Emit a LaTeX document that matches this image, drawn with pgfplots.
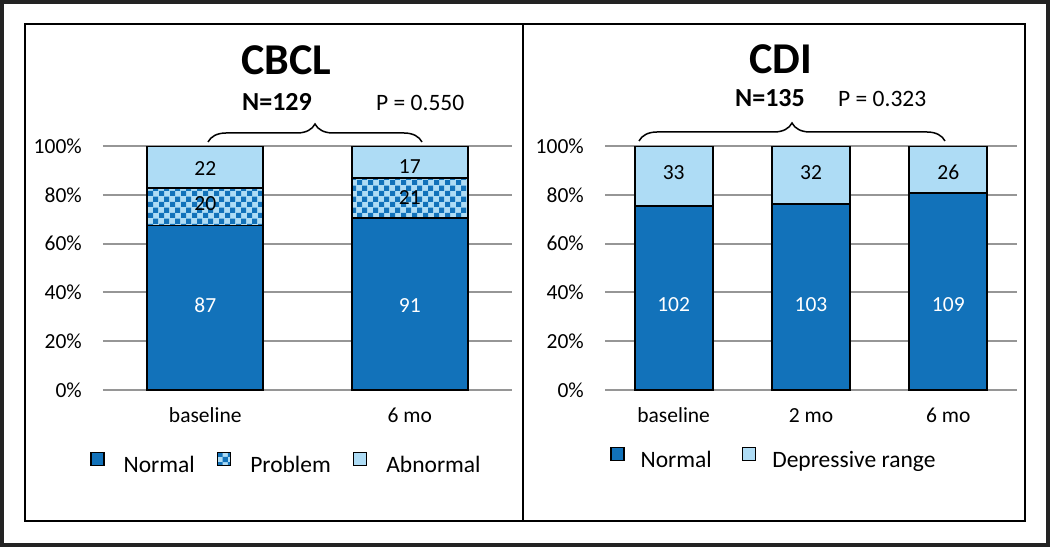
\documentclass[border=0pt]{standalone}
\usepackage{fontspec}
\setmainfont{Carlito}
\usepackage{pgfplots}
\pgfplotsset{compat=1.18}
\usetikzlibrary{patterns,decorations.pathreplacing}
\definecolor{dblue}{RGB}{18,114,186}
\definecolor{lblue}{RGB}{174,220,245}
\definecolor{gridgray}{RGB}{150,150,150}
\definecolor{frame}{RGB}{35,35,35}
\pgfdeclarepatternformonly{bigcheck}{\pgfpointorigin}{\pgfqpoint{10.6pt}{10.6pt}}{\pgfqpoint{10.6pt}{10.6pt}}{%
  \pgfpathrectangle{\pgfpointorigin}{\pgfqpoint{5.3pt}{5.3pt}}%
  \pgfpathrectangle{\pgfqpoint{5.3pt}{5.3pt}}{\pgfqpoint{5.3pt}{5.3pt}}%
  \pgfusepath{fill}}
\newcommand{\tf}{\fontsize{21.5}{25}\selectfont}
\newcommand{\lf}{\fontsize{23.5}{27}\selectfont}
\pgfplotsset{
  mybars/.style={
    ybar stacked, scale only axis, height=244pt, ymin=0, ymax=100,
    ytick={0,20,40,60,80,100},
    yticklabels={0\%,20\%,40\%,60\%,80\%,100\%},
    axis line style={draw=none},
    major tick length=0pt,
    ymajorgrids, grid style={gridgray, line width=2pt},
    tick label style={font=\tf, inner sep=0pt},
    yticklabel style={anchor=east, xshift=-21pt},
    xticklabel style={anchor=base, yshift=-32pt},
    xtick={0,1,2},
    legend cell align=left,
  },
  leg/.style={legend image code/.code={\draw[##1,draw=black,line width=1.5pt] (0pt,0pt) rectangle (13pt,13pt);}},
  normal/.style={fill=dblue, draw=black, line width=1.8pt, leg},
  problem/.style={fill=lblue, draw=black, line width=1.8pt, postaction={pattern=bigcheck, pattern color=dblue}, leg},
  abnormal/.style={fill=lblue, draw=black, line width=1.8pt, leg},
}
\begin{document}
\begin{tikzpicture}
\useasboundingbox (0,0) rectangle (1050pt,547pt);
\draw[frame, line width=4pt] (2pt,2pt) rectangle (1048pt,545pt);
\draw[black, line width=2pt] (25pt,26pt) rectangle (1025pt,523pt);
\draw[black, line width=2pt] (523pt,26pt) -- (523pt,523pt);

% Left panel: CBCL
\begin{axis}[mybars,
  at={(103pt,157pt)}, anchor=south west, width=409pt,
  xmin=-0.5, xmax=1.5, bar width=116pt,
  xticklabels={baseline,6 mo},
  legend columns=3,
  legend style={at={(-0.032,-0.299)}, anchor=west, draw=none, fill=none, inner sep=0pt,
    font=\lf, nodes={inner sep=0pt},
    /tikz/every odd column/.append style={column sep=19pt},
    /tikz/every even column/.append style={column sep=22pt}},
]
\addplot[normal] coordinates {(0,67.44) (1,70.54)};
\addplot[problem] coordinates {(0,15.50) (1,16.28)};
\addplot[abnormal] coordinates {(0,17.05) (1,13.18)};
\legend{Normal,Problem,Abnormal}
\coordinate (L1) at (axis cs:0,34.8);
\coordinate (L2) at (axis cs:1,34.8);
\coordinate (L3) at (axis cs:0,76.4);
\coordinate (L4) at (axis cs:1,78.7);
\coordinate (L5) at (axis cs:0,90.6);
\coordinate (L6) at (axis cs:1,91.5);
\end{axis}

% Right panel: CDI
\begin{axis}[mybars,
  at={(605pt,157pt)}, anchor=south west, width=412pt,
  xmin=-0.5, xmax=2.5, bar width=78pt,
  xticklabels={baseline,2 mo,6 mo},
  legend columns=2,
  legend style={at={(0.012,-0.279)}, anchor=west, draw=none, fill=none, inner sep=0pt,
    font=\lf, nodes={inner sep=0pt},
    /tikz/every odd column/.append style={column sep=16pt},
    /tikz/every even column/.append style={column sep=30pt}},
]
\addplot[normal] coordinates {(0,75.56) (1,76.30) (2,80.74)};
\addplot[abnormal] coordinates {(0,24.44) (1,23.70) (2,19.26)};
\legend{Normal,Depressive range}
\coordinate (R1) at (axis cs:0,35.0);
\coordinate (R2) at (axis cs:1,35.0);
\coordinate (R3) at (axis cs:2,35.0);
\coordinate (R4) at (axis cs:0,89.0);
\coordinate (R5) at (axis cs:1,89.0);
\coordinate (R6) at (axis cs:2,89.3);
\end{axis}

% Bar value labels
\begin{scope}[every node/.style={font=\tf, inner sep=0pt}]
\node[text=white] at (L1) {87};
\node[text=white] at (L2) {91};
\node at (L3) {20};
\node at (L4) {21};
\node at (L5) {22};
\node at (L6) {17};
\node[text=white] at (R1) {102};
\node[text=white] at (R2) {103};
\node[text=white] at (R3) {109};
\node at (R4) {33};
\node at (R5) {32};
\node at (R6) {26};
\end{scope}

% Titles
\node[font=\fontsize{44}{50}\selectfont\bfseries, anchor=base, inner sep=0pt] at (286pt,472pt) {CBCL};
\node[font=\fontsize{44}{50}\selectfont\bfseries, anchor=base, inner sep=0pt] at (781pt,473pt) {CDI};
\node[font=\fontsize{26}{30}\selectfont\bfseries, anchor=base, inner sep=0pt] at (277pt,436pt) {N=129};
\node[font=\fontsize{23.5}{27}\selectfont, anchor=base west, inner sep=0pt] at (376pt,436pt) {P = 0.550};
\node[font=\fontsize{26}{30}\selectfont\bfseries, anchor=base, inner sep=0pt] at (770pt,440pt) {N=135};
\node[font=\fontsize{23.5}{27}\selectfont, anchor=base west, inner sep=0pt] at (838pt,440pt) {P = 0.323};

% Braces
\draw[line width=1.5pt, decorate, decoration={brace, amplitude=18pt}] (208pt,405pt) -- (422pt,405pt);
\draw[line width=1.5pt, decorate, decoration={brace, amplitude=18pt}] (639pt,406pt) -- (945pt,406pt);
\end{tikzpicture}
\end{document}
